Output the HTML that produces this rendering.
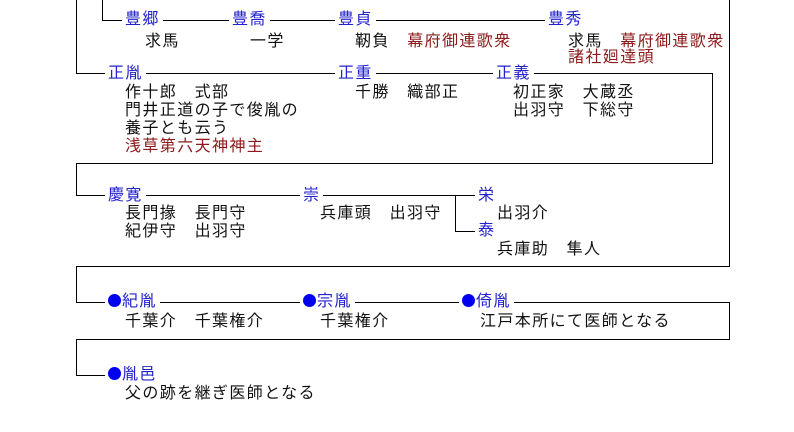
<!DOCTYPE html>
<html><head><meta charset="utf-8"><style>
body{margin:0;background:#fff;width:794px;height:432px;overflow:hidden;position:relative;font-family:"Liberation Sans","Noto Sans CJK JP",sans-serif;font-size:16px;letter-spacing:1.4px;}
.t{position:absolute;line-height:18px;white-space:pre;color:#111;background:#fff;padding:0 3px;}
.n{color:#2222cc;}
.r{color:#8b1a1a;}
.d{display:inline-block;width:13px;height:13px;border-radius:50%;background:#0000ee;vertical-align:-1px;margin-right:1px;}
svg{position:absolute;left:0;top:0;}
</style></head><body>
<svg width="794" height="432" stroke="#000" stroke-width="1" fill="none" shape-rendering="crispEdges">
<path d="M102.5 0V20.5H550"/>
<path d="M76.5 0V73.5H712.5V163.5H76.5V195.5H475"/>
<path d="M455.5 195.5V231.5H475"/>
<path d="M729.5 0V266.5H76.5V302.5H729.5V339.5H76.5V375.5H106"/>
</svg>
<div class="t n" style="left:122px;top:11px">豊郷</div>
<div class="t n" style="left:229px;top:11px">豊喬</div>
<div class="t n" style="left:335px;top:11px">豊貞</div>
<div class="t n" style="left:545px;top:11px">豊秀</div>
<div class="t" style="left:142px;top:33px">求馬</div>
<div class="t" style="left:247px;top:33px">一学</div>
<div class="t" style="left:352px;top:33px">靭負　<span class="r">幕府御連歌衆</span></div>
<div class="t" style="left:565px;top:33px">求馬　<span class="r">幕府御連歌衆</span></div>
<div class="t r" style="left:565px;top:49px">諸社廻達頭</div>

<div class="t n" style="left:105px;top:65px">正胤</div>
<div class="t n" style="left:335px;top:65px">正重</div>
<div class="t n" style="left:493px;top:65px">正義</div>
<div class="t" style="left:122px;top:84px">作十郎　式部
門井正道の子で俊胤の
養子とも云う
<span class="r">浅草第六天神神主</span></div>
<div class="t" style="left:352px;top:84px">千勝　織部正</div>
<div class="t" style="left:510px;top:84px">初正家　大蔵丞
出羽守　下総守</div>

<div class="t n" style="left:105px;top:187px">慶寛</div>
<div class="t n" style="left:300px;top:187px">崇</div>
<div class="t n" style="left:475px;top:187px">栄</div>
<div class="t n" style="left:475px;top:222px">泰</div>
<div class="t" style="left:122px;top:205px">長門掾　長門守
紀伊守　出羽守</div>
<div class="t" style="left:317px;top:205px">兵庫頭　出羽守</div>
<div class="t" style="left:494px;top:205px">出羽介</div>
<div class="t" style="left:494px;top:241px">兵庫助　隼人</div>

<div class="t n" style="left:105px;top:293px"><span class="d"></span>紀胤</div>
<div class="t n" style="left:300px;top:293px"><span class="d"></span>宗胤</div>
<div class="t n" style="left:459px;top:293px"><span class="d"></span>倚胤</div>
<div class="t" style="left:122px;top:313px">千葉介　千葉権介</div>
<div class="t" style="left:317px;top:313px">千葉権介</div>
<div class="t" style="left:477px;top:313px">江戸本所にて医師となる</div>

<div class="t n" style="left:105px;top:366px"><span class="d"></span>胤邑</div>
<div class="t" style="left:122px;top:385px">父の跡を継ぎ医師となる</div>
</body></html>
